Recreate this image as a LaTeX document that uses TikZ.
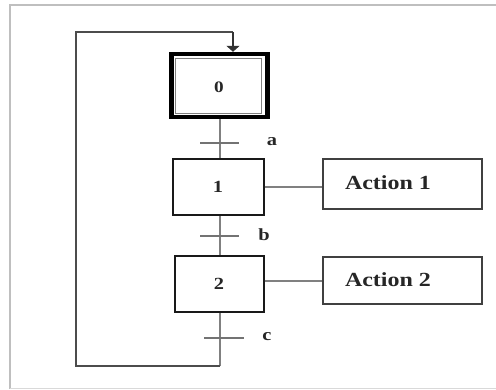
\documentclass[tikz,border=0pt]{standalone}
\usepackage{fontspec}
\setmainfont{Liberation Serif}
\usetikzlibrary{arrows.meta}
\begin{document}
\begin{tikzpicture}[x=1pt,y=-1pt,
  stepbox/.style={draw=black!90,line width=2pt,minimum width=90pt,minimum height=56pt,inner sep=0pt,font=\fontsize{17}{19}\selectfont\bfseries,text=black!85},
  actbox/.style={draw=black!75,line width=1.1pt,minimum width=159pt,inner sep=0pt},
  link/.style={draw=black!50,line width=2pt},
  loop/.style={draw=black!70,line width=1.8pt},
  bar/.style={draw=black!55,line width=1.6pt},
  lbl/.style={font=\fontsize{17}{19}\selectfont\bfseries,text=black!85},
  steptxt/.style={font=\fontsize{16}{18}\selectfont\bfseries,text=black!85},
  acttxt/.style={font=\fontsize{20}{22}\selectfont\bfseries,text=black!85}]
\useasboundingbox (0,0) rectangle (496,389);
% page frame
\draw[black!25,line width=1.5pt] (496,5) -- (10,5) -- (10,389);
\draw[black!15,line width=1pt] (10,388) -- (496,388);
% initial step
\node[fill=black,minimum width=101pt,minimum height=67pt,inner sep=0pt] (s0) at (219,85.5) {};
\node[fill=white,minimum width=91pt,minimum height=59pt,inner sep=0pt] (s0w) at (219,85.5) {};
\node[draw=black!50,line width=1pt,minimum width=86pt,minimum height=55pt,inner sep=0pt] (s0i) at (218,85.5) {};
\node[steptxt] (t0) at (219,87) {\scalebox{1.2}[1]{0}};
% steps
\node[stepbox,minimum width=91pt] (s1) at (218,187) {\scalebox{1.2}[1]{1}};
\node[stepbox,minimum width=89pt] (s2) at (219,284) {\scalebox{1.2}[1]{2}};
% actions
\node[actbox,minimum height=50pt] (a1) at (402.5,184) {};
\node[actbox,minimum height=47pt] (a2) at (402.5,280.5) {};
\node[acttxt] (a1t) at (388,183) {\scalebox{1.2}[1]{Action 1}};
\node[acttxt] (a2t) at (388,280) {\scalebox{1.2}[1]{Action 2}};
% transitions
\coordinate (ta) at (219.5,143);
\coordinate (tb) at (219.5,236);
\coordinate (tc) at (220,338);
\coordinate (lb) at (220,366);
\coordinate (ll) at (76,366);
\coordinate (lt) at (76,32);
\coordinate (lr) at (233,32);
\draw[link] (219.5,119) -- (s1.north -| ta);
\draw[link] (s1.south -| tb) -- (s2.north -| tb);
\draw[link] (s2.south -| tc) -- (lb);
\draw[loop] (lb) -- (ll) -- (lt) -- (lr);
\draw[loop,-{Triangle[width=13pt,length=6pt]},black!80] (lr) -- (lr |- s0.north);
\draw[link] (s1.east) -- (s1.east -| a1.west);
\draw[link] (s2.east |- a2.west) -- (a2.west);
\draw[bar] ([xshift=-19.5pt]ta) -- ([xshift=19.5pt]ta);
\draw[bar] ([xshift=-19.5pt]tb) -- ([xshift=19.5pt]tb);
\draw[bar] ([xshift=-16pt]tc) -- ([xshift=24pt]tc);
\node[lbl] (la) at (272,142) {\scalebox{1.2}[1]{a}};
\node[lbl] (lbb) at (264,235) {\scalebox{1.2}[1]{b}};
\node[lbl] (lc) at (267,337) {\scalebox{1.2}[1]{c}};
\end{tikzpicture}
\end{document}
